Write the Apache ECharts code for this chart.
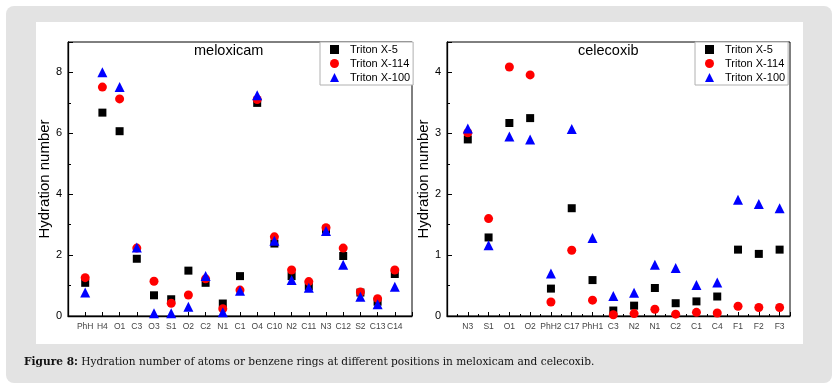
<!DOCTYPE html>
<html>
<head>
<meta charset="utf-8">
<script src="https://cdn.jsdelivr.net/npm/echarts@6/dist/echarts.min.js"></script>
<style>
html, body { margin: 0; padding: 0; background: #fff; }
#main { width: 838px; height: 388px; }
</style>
</head>
<body>
<div id="main"></div>
<script>
// meloxicam panel
var meloxCats = ['PhH', 'H4', 'O1', 'C3', 'O3', 'S1', 'O2', 'C2', 'N1', 'C1', 'O4', 'C10', 'N2', 'C11', 'N3', 'C12', 'S2', 'C13', 'C14'];
var meloxX5   = [1.09, 6.68, 6.07, 1.88, 0.68, 0.55, 1.49, 1.09, 0.41, 1.31, 7.00, 2.38, 1.31, 0.98, 2.84, 1.97, 0.77, 0.47, 1.38];
var meloxX114 = [1.26, 7.52, 7.13, 2.23, 1.14, 0.42, 0.69, 1.22, 0.24, 0.85, 7.11, 2.60, 1.51, 1.13, 2.90, 2.23, 0.79, 0.57, 1.51];
var meloxX100 = [0.77, 8.01, 7.52, 2.25, 0.09, 0.09, 0.30, 1.31, 0.12, 0.83, 7.25, 2.47, 1.18, 0.93, 2.79, 1.68, 0.63, 0.39, 0.96];

// celecoxib panel
var celeCats = ['N3', 'S1', 'O1', 'O2', 'PhH2', 'C17', 'PhH1', 'C3', 'N2', 'N1', 'C2', 'C1', 'C4', 'F1', 'F2', 'F3'];
var celeX5   = [2.90, 1.29, 3.17, 3.25, 0.45, 1.77, 0.59, 0.09, 0.17, 0.46, 0.21, 0.24, 0.32, 1.09, 1.02, 1.09];
var celeX114 = [3.01, 1.60, 4.09, 3.96, 0.23, 1.08, 0.26, 0.02, 0.04, 0.11, 0.03, 0.06, 0.05, 0.16, 0.14, 0.14];
var celeX100 = [3.08, 1.16, 2.95, 2.90, 0.70, 3.07, 1.28, 0.33, 0.38, 0.84, 0.79, 0.51, 0.55, 1.91, 1.84, 1.77];

var seriesNames = ['Triton X-5', 'Triton X-114', 'Triton X-100'];

var font = "'Liberation Sans', Arial, sans-serif";
var serif = "'DejaVu Serif', serif";

function pts(cats, vals) {
    return cats.map(function (c, i) { return [i + 1, vals[i]]; });
}

function catLabel(cats) {
    return function (v) {
        if (v % 1 !== 0 || v < 1 || v > cats.length) return '';
        return cats[v - 1];
    };
}

function xAxisOf(idx, cats, max, minor) {
    return {
        type: 'value', gridIndex: idx, min: 0, max: max, interval: 1,
        axisLine: { lineStyle: { color: '#000', width: 1.3 } },
        axisTick: { inside: true, length: 4, lineStyle: { color: '#000' } },
        minorTick: { show: minor, splitNumber: 2, length: 2, lineStyle: { color: '#000' } },
        splitLine: { show: false },
        axisLabel: { formatter: catLabel(cats), fontSize: 8.5, color: '#444', fontFamily: font, margin: 6 }
    };
}

function yAxisOf(idx, max, interval, gap) {
    return {
        type: 'value', gridIndex: idx, min: 0, max: max, interval: interval,
        name: 'Hydration number', nameLocation: 'middle', nameGap: gap,
        nameTextStyle: { fontSize: 15, color: '#000', fontFamily: font },
        axisLine: { lineStyle: { color: '#000', width: 1.3 } },
        axisTick: { inside: true, length: 5, lineStyle: { color: '#000' } },
        minorTick: { show: true, splitNumber: 2, length: 3, lineStyle: { color: '#000' } },
        splitLine: { show: false },
        axisLabel: {
            formatter: function (v) { return (v % interval === 0) ? String(v) : ''; },
            fontSize: 11, color: '#000', fontFamily: font, margin: 6
        }
    };
}

function series(name, idx, cats, vals, symbol, size, color) {
    return {
        name: name, type: 'scatter', xAxisIndex: idx, yAxisIndex: idx,
        symbol: symbol, symbolSize: size,
        itemStyle: { color: color, opacity: 1 },
        data: pts(cats, vals)
    };
}

function legendAt(left) {
    return {
        orient: 'vertical', left: left, top: 42,
        data: seriesNames,
        itemWidth: 9, itemHeight: 9, itemGap: 3,
        padding: [2, 3, 2, 10],
        backgroundColor: '#fff', borderColor: '#b0b0b0', borderWidth: 1,
        itemStyle: { opacity: 1 },
        textStyle: { fontSize: 11, color: '#000', fontFamily: font, padding: [0, 0, 0, 6] }
    };
}

var myChart = echarts.init(document.getElementById('main'));

var option = {
    animation: false,
    graphic: [
        { type: 'rect', z: -10, shape: { x: 6, y: 6, width: 826, height: 377, r: 8 }, style: { fill: '#e3e3e3' } },
        { type: 'rect', z: -9, shape: { x: 36, y: 22, width: 767, height: 322 }, style: { fill: '#fff' } },
        {
            type: 'text', left: 24, top: 357,
            style: {
                text: '{b|Figure 8:} Hydration number of atoms or benzene rings at different positions in meloxicam and celecoxib.',
                fontSize: 10.6, fontFamily: serif, fill: '#111',
                rich: { b: { fontWeight: 'bold', fontSize: 10.6, fontFamily: serif } }
            }
        }
    ],
    title: [
        { text: 'meloxicam', left: 194, top: 43, padding: 0, textStyle: { fontSize: 14.5, fontWeight: 'normal', color: '#000', fontFamily: font } },
        { text: 'celecoxib', left: 578, top: 43, padding: 0, textStyle: { fontSize: 14.5, fontWeight: 'normal', color: '#000', fontFamily: font } }
    ],
    legend: [legendAt(320), legendAt(695)],
    grid: [
        { left: 68, top: 42, width: 344, height: 274, show: true, borderColor: '#000', borderWidth: 1, backgroundColor: 'transparent' },
        { left: 447, top: 42, width: 343, height: 274, show: true, borderColor: '#000', borderWidth: 1, backgroundColor: 'transparent' }
    ],
    xAxis: [xAxisOf(0, meloxCats, 20, false), xAxisOf(1, celeCats, 16.5, true)],
    yAxis: [yAxisOf(0, 9, 2, 16), yAxisOf(1, 4.5, 1, 14)],
    series: [
        series(seriesNames[0], 0, meloxCats, meloxX5, 'rect', 8, '#000'),
        series(seriesNames[1], 0, meloxCats, meloxX114, 'circle', 9, '#f00'),
        series(seriesNames[2], 0, meloxCats, meloxX100, 'triangle', 10, '#00f'),
        series(seriesNames[0], 1, celeCats, celeX5, 'rect', 8, '#000'),
        series(seriesNames[1], 1, celeCats, celeX114, 'circle', 9, '#f00'),
        series(seriesNames[2], 1, celeCats, celeX100, 'triangle', 10, '#00f')
    ]
};

myChart.setOption(option, true);
</script>
</body>
</html>
